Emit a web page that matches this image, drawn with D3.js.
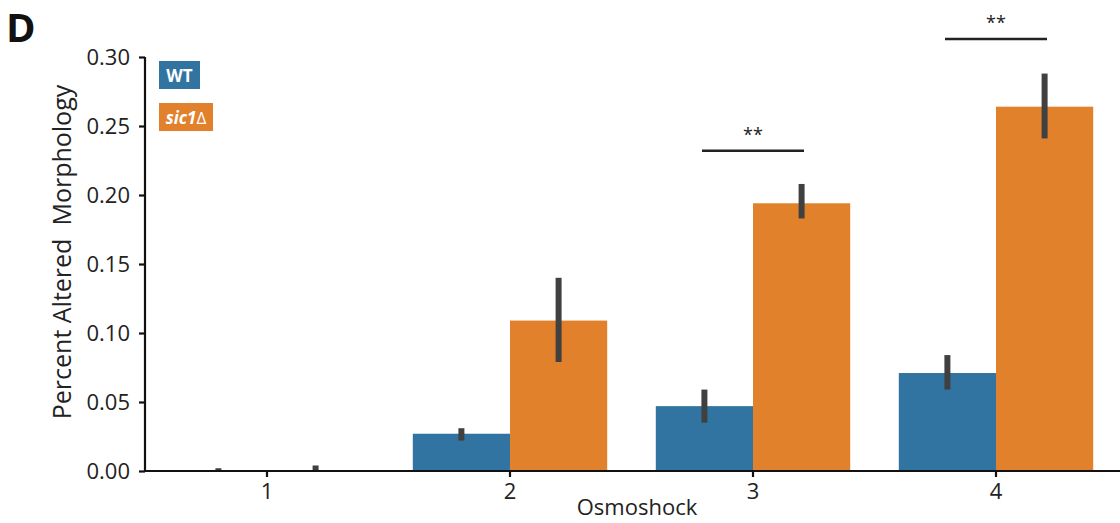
<!DOCTYPE html>
<html><head><meta charset="utf-8">
<script src="https://cdn.jsdelivr.net/npm/d3@7"></script>
<style>body{margin:0;background:#fff}svg{display:block}text{font-family:"Open Sans","Noto Sans",sans-serif}</style>
</head><body><svg id="c" width="1120" height="523"></svg>
<script>
const categories = ["1","2","3","4"];
const series = ["WT","sic1Δ"];
const wtValues = [0.0005, 0.027, 0.047, 0.071];
const wtLow = [0.0, 0.022, 0.035, 0.059];
const wtHigh = [0.002, 0.031, 0.059, 0.084];
const sicValues = [0.0005, 0.109, 0.194, 0.264];
const sicLow = [0.0, 0.079, 0.183, 0.241];
const sicHigh = [0.004, 0.140, 0.208, 0.288];
const yTicks = [0, 0.05, 0.10, 0.15, 0.20, 0.25, 0.30];
const sigGroups = ["3","4"];
const sigLevels = [0.232, 0.313];
const sigLabels = ["**","**"];
const colors = ["#3274a1","#e1812c"];

const svg = d3.select("#c");
const x = d3.scaleBand().domain(categories).range([145.5,1117.5]).paddingInner(0).paddingOuter(0);
const bw = x.bandwidth();
const inner = d3.scaleBand().domain(series).range([0.1*bw, 0.9*bw]).padding(0);
const y = d3.scaleLinear().domain([0,0.30]).range([471,57]);

const data = [];
categories.forEach((c,i)=>{
  data.push({c, s:series[0], v:wtValues[i], lo:wtLow[i], hi:wtHigh[i], col:colors[0]});
  data.push({c, s:series[1], v:sicValues[i], lo:sicLow[i], hi:sicHigh[i], col:colors[1]});
});

svg.selectAll("rect.bar").data(data).enter().append("rect")
  .attr("x", d=>x(d.c)+inner(d.s)).attr("width", inner.bandwidth())
  .attr("y", d=>y(d.v)).attr("height", d=>y(0)-y(d.v)).attr("fill", d=>d.col);

svg.selectAll("line.err").data(data).enter().append("line")
  .attr("x1", d=>x(d.c)+inner(d.s)+inner.bandwidth()/2).attr("x2", d=>x(d.c)+inner(d.s)+inner.bandwidth()/2)
  .attr("y1", d=>y(d.lo)).attr("y2", d=>y(d.hi))
  .attr("stroke","#404040").attr("stroke-width",6);

// y axis
const ya = svg.append("g").attr("transform","translate(145,0)")
  .call(d3.axisLeft(y).tickValues(yTicks).tickFormat(d3.format(".2f")).tickSize(6).tickPadding(9));
ya.select(".domain").attr("stroke","#111").attr("stroke-width",2.2).attr("d","M0,"+y(0)+"V"+y(0.30));
ya.selectAll(".tick line").attr("stroke","#111").attr("stroke-width",2.2);
ya.selectAll(".tick text").attr("font-size",22).attr("fill","#222");

// x axis
const xa = svg.append("g").attr("transform","translate(0,471)")
  .call(d3.axisBottom(x).tickSize(6).tickPadding(6));
xa.select(".domain").attr("stroke","#111").attr("stroke-width",2.2).attr("d","M144,0H1120");
xa.selectAll(".tick line").attr("stroke","#111").attr("stroke-width",2.2);
xa.selectAll(".tick text").attr("font-size",22).attr("fill","#222");

svg.append("text").attr("x",637).attr("y",515).attr("text-anchor","middle")
  .attr("font-size",22).attr("fill","#222").text("Osmoshock");
svg.append("text").attr("transform","translate(71,252) rotate(-90)").attr("text-anchor","middle")
  .attr("font-size",25).attr("fill","#222").attr("xml:space","preserve").text("Percent Altered  Morphology");

// significance
sigGroups.forEach((g,i)=>{
  const cx = x(g)+x.bandwidth()/2;
  svg.append("line").attr("x1",cx-51).attr("x2",cx+51).attr("y1",y(sigLevels[i])).attr("y2",y(sigLevels[i]))
    .attr("stroke","#222").attr("stroke-width",2.5);
  svg.append("text").attr("x",cx).attr("y",y(sigLevels[i])-10).attr("text-anchor","middle")
    .attr("font-size",18).attr("fill","#222").text(sigLabels[i]);
});

// legend
svg.append("rect").attr("x",159).attr("y",61).attr("width",41).attr("height",28).attr("fill",colors[0]);
svg.append("text").attr("x",179.5).attr("y",82).attr("text-anchor","middle").attr("font-size",17)
  .attr("font-weight","bold").attr("fill","#fff").text("WT");
svg.append("rect").attr("x",159).attr("y",103).attr("width",54).attr("height",28).attr("fill",colors[1]);
const lt = svg.append("text").attr("x",186).attr("y",124).attr("text-anchor","middle").attr("font-size",17).attr("fill","#fff");
lt.append("tspan").attr("font-weight","bold").attr("font-style","italic").text("sic1");
lt.append("tspan").text("Δ");

svg.append("text").attr("x",6).attr("y",42).attr("font-size",40).attr("font-weight","bold")
  .attr("font-family","'Liberation Sans',Arial,sans-serif").attr("fill","#111").text("D");
</script></body></html>
